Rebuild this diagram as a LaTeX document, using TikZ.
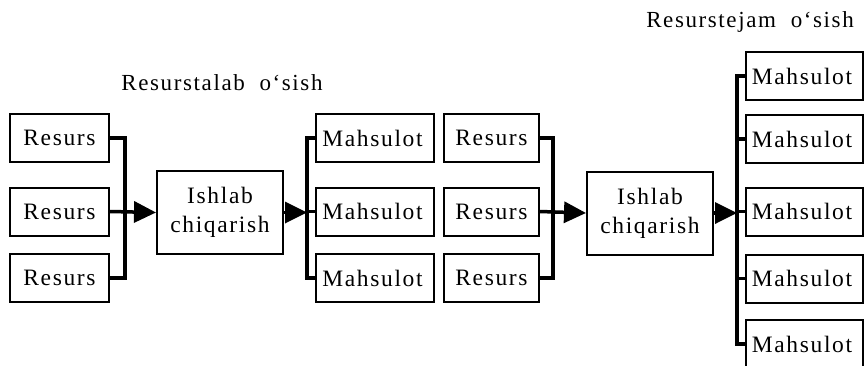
\documentclass[tikz,border=0pt]{standalone}
\usepackage{fontspec}
\setmainfont{Liberation Serif}[LetterSpace=7]
\usetikzlibrary{arrows.meta}
\begin{document}
\begin{tikzpicture}[x=1pt,y=-1pt,
  box/.style={draw,line width=2pt,inner sep=0pt,align=center,
    font=\fontsize{23.5}{29}\selectfont},
  res/.style={box,minimum width=99pt,minimum height=48pt},
  mah/.style={box,minimum width=118pt,minimum height=48pt},
  ish/.style={box,minimum width=126pt,minimum height=83pt},
  conn/.style={line width=3.5pt,line join=miter,line cap=butt},
  arr/.style={conn,-{Triangle[length=22pt,width=21pt]}},
  ttl/.style={font=\fontsize{23}{29}\selectfont,inner sep=0pt}]
\clip (0,0) rectangle (867,365);
% left group
\node[res] (r1) at (59.5,138) {Resurs};
\node[res] (r2) at (59.5,211.5) {Resurs};
\node[res] (r3) at (59.5,278) {Resurs};
\node[ish] (i1) at (220,212.5) {Ishlab\\chiqarish};
\node[mah] (m1) at (375,138) {\hspace*{-5pt}Mahsulot};
\node[mah] (m2) at (375,211.5) {\hspace*{-5pt}Mahsulot};
\node[mah] (m3) at (375,278) {\hspace*{-5pt}Mahsulot};
\coordinate (b1) at (125,0);
\coordinate (b2) at (307,0);
\draw[conn] (r1.east) -- (r1.east -| b1) -- (r3.east -| b1) -- (r3.east);
\draw[arr] (r2.east) -- (i1.west);
\draw[arr] (i1.east) -- (i1.east -| b2);
\draw[conn] (m1.west) -- (m1.west -| b2) -- (m3.west -| b2) -- (m3.west);
\draw[conn] (m2.west) -- (m2.west -| b2);
\node[ttl] (t1) at (222,83) {Resurstalab\ \ o‘sish};
% right group
\node[res,minimum width=95pt] (s1) at (491.5,138) {Resurs};
\node[res,minimum width=95pt] (s2) at (491.5,211.5) {Resurs};
\node[res,minimum width=95pt] (s3) at (491.5,278) {Resurs};
\node[ish] (i2) at (650,213) {Ishlab\\chiqarish};
\node[mah,minimum width=117pt] (n1) at (804.5,76) {\hspace*{-5pt}Mahsulot};
\node[mah,minimum width=117pt] (n2) at (804.5,139) {\hspace*{-5pt}Mahsulot};
\node[mah,minimum width=117pt] (n3) at (804.5,211.5) {\hspace*{-5pt}Mahsulot};
\node[mah,minimum width=117pt] (n4) at (804.5,278.5) {\hspace*{-5pt}Mahsulot};
\node[mah,minimum width=117pt] (n5) at (804.5,344) {\hspace*{-5pt}Mahsulot};
\coordinate (b3) at (553,0);
\coordinate (b4) at (737,0);
\draw[conn] (s1.east) -- (s1.east -| b3) -- (s3.east -| b3) -- (s3.east);
\draw[arr] (s2.east) -- (i2.west);
\draw[arr] (i2.east) -- (i2.east -| b4);
\draw[conn] (n1.west) -- (n1.west -| b4) -- (n5.west -| b4) -- (n5.west);
\draw[conn] (n2.west) -- (n2.west -| b4);
\draw[conn] (n3.west) -- (n3.west -| b4);
\draw[conn] (n4.west) -- (n4.west -| b4);
\node[ttl] (t2) at (750,22) {Resurstejam\ \ o‘sish};
\end{tikzpicture}
\end{document}
